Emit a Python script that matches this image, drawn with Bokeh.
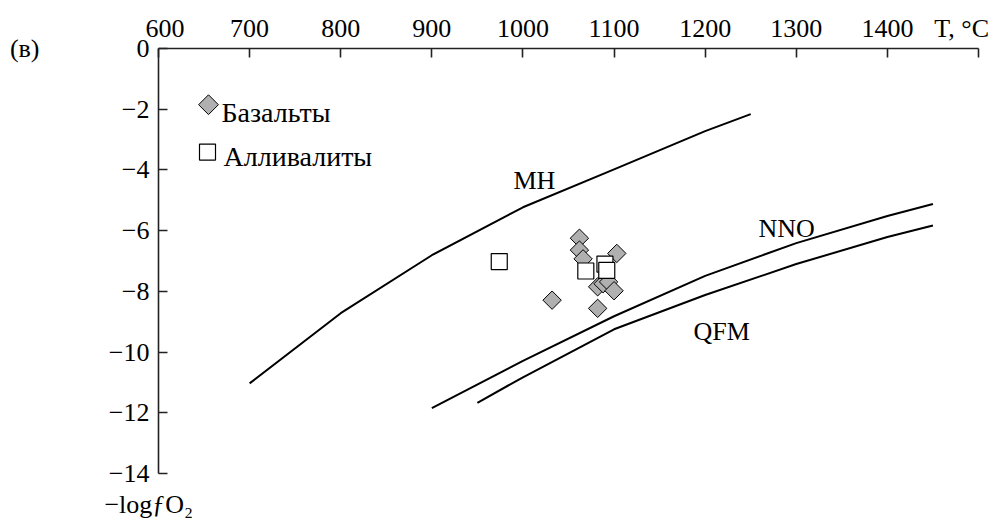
import numpy as np
from bokeh.plotting import figure
from bokeh.models import Range1d, FixedTicker, Label, ColumnDataSource, LinearAxis
from bokeh.embed import file_html
from bokeh.resources import INLINE

# ---- data ----
x_ticks = [600, 700, 800, 900, 1000, 1100, 1200, 1300, 1400, 1500]
y_ticks = [0, -2, -4, -6, -8, -10, -12, -14]

T_mh = [700, 800, 900, 1000, 1100, 1200, 1250]
f_mh = [-11.03, -8.72, -6.81, -5.23, -3.98, -2.72, -2.16]

T_nno = [900, 1000, 1100, 1200, 1300, 1400, 1450]
f_nno = [-11.85, -10.29, -8.82, -7.49, -6.41, -5.52, -5.12]

T_qfm = [950, 1000, 1100, 1200, 1300, 1400, 1450]
f_qfm = [-11.67, -10.83, -9.25, -8.12, -7.10, -6.21, -5.83]

T_bas = [1062, 1062, 1066, 1103, 1082, 1088, 1094, 1100, 1032, 1082]
f_bas = [-6.25, -6.64, -6.93, -6.75, -7.85, -7.75, -7.69, -7.98, -8.29, -8.56]

T_all = [974, 1069, 1090, 1092]
f_all = [-7.02, -7.33, -7.10, -7.31]

FONT = "Liberation Serif"
FS = "26px"
NB = "\u00a0"

W, H = 995, 521
L, R, TOP, B = 158, 17, 48, 42
X0, X1, Y0, Y1 = 600, 1500, -14, 0

p = figure(width=W, height=H, output_backend="svg", toolbar_location=None,
           x_range=Range1d(X0, X1), y_range=Range1d(Y0, Y1),
           x_axis_location="above", y_axis_location="left",
           min_border_left=L, min_border_right=R, min_border_top=TOP, min_border_bottom=B)
p.outline_line_color = None
p.grid.visible = False
p.background_fill_color = "white"
p.border_fill_color = "white"

fw = W - L - R
fh = H - TOP - B

def px2x(px):
    return X0 + (px - L) * (X1 - X0) / fw

def py2y(py):
    return Y1 - (py - TOP) * (Y1 - Y0) / fh

def style_axis(ax):
    ax.axis_line_color = "#222222"
    ax.axis_line_width = 1.6
    ax.major_tick_line_color = "#222222"
    ax.major_tick_line_width = 1.6
    ax.minor_tick_line_color = None
    ax.major_tick_out = 0
    ax.major_tick_in = 9
    ax.major_label_text_font = FONT
    ax.major_label_text_font_size = FS
    ax.major_label_text_color = "black"

xa = p.xaxis[0]
style_axis(xa)
xa.ticker = FixedTicker(ticks=x_ticks)
over = {t: str(t) for t in x_ticks}
over[600] = NB * 2 + "600"
over[1500] = "T, °C" + NB
xa.major_label_overrides = over
xa.major_label_standoff = 6

ya = p.yaxis[0]
style_axis(ya)
ya.ticker = FixedTicker(ticks=y_ticks)
ya.major_label_overrides = {t: ("0" if t == 0 else "\u2212" + str(abs(t))) for t in y_ticks}
ya.major_label_standoff = 9

# outer left axis carrying the panel tag "(в)"
tag_ax = LinearAxis(ticker=FixedTicker(ticks=[0]), major_label_overrides={0: "(в)"})
tag_ax.axis_line_color = None
tag_ax.major_tick_line_color = None
tag_ax.minor_tick_line_color = None
tag_ax.major_label_text_font = FONT
tag_ax.major_label_text_font_size = FS
tag_ax.major_label_text_color = "black"
tag_ax.major_label_standoff = 60
p.add_layout(tag_ax, "left")

# bottom axis carrying the y quantity name
qa = LinearAxis(ticker=FixedTicker(ticks=[600]),
                major_label_overrides={600: "\u2212logƒO\u2082" + NB * 3})
qa.axis_line_color = None
qa.major_tick_line_color = None
qa.minor_tick_line_color = None
qa.major_label_text_font = FONT
qa.major_label_text_font_size = FS
qa.major_label_text_color = "black"
qa.major_label_standoff = 10
p.add_layout(qa, "below")

# curves
for T, f in ((T_mh, f_mh), (T_nno, f_nno), (T_qfm, f_qfm)):
    p.line(T, f, line_color="black", line_width=2)

# points
p.scatter(T_bas, f_bas, marker="square", angle=np.pi / 4, size=13,
          fill_color="#b0b0b0", line_color="black", line_width=1)
p.scatter(T_all, f_all, marker="square", size=16,
          fill_color="white", line_color="black", line_width=1.2)

# legend (manual)
leg_src = ColumnDataSource(dict(x=[px2x(208)], y=[py2y(105)]))
p.scatter("x", "y", source=leg_src, marker="square", angle=np.pi / 4, size=14,
          fill_color="#b0b0b0", line_color="black", line_width=1)
leg_src2 = ColumnDataSource(dict(x=[px2x(207)], y=[py2y(153)]))
p.scatter("x", "y", source=leg_src2, marker="square", size=16,
          fill_color="white", line_color="black", line_width=1.2)

def lab(text, px, py, size=FS, style="normal", align="left"):
    p.add_layout(Label(x=px2x(px), y=py2y(py), text=text, text_font=FONT,
                       text_font_size=size, text_font_style=style,
                       text_align=align, text_baseline="alphabetic",
                       text_color="black"))

lab("Базальты", 221, 113, size="28px")
lab("Алливалиты", 223, 158, size="28px")
lab("MH", 513, 182)
lab("NNO", 758, 231)
lab("QFM", 693, 335)

open("out.html", "w").write(file_html(p, INLINE))
